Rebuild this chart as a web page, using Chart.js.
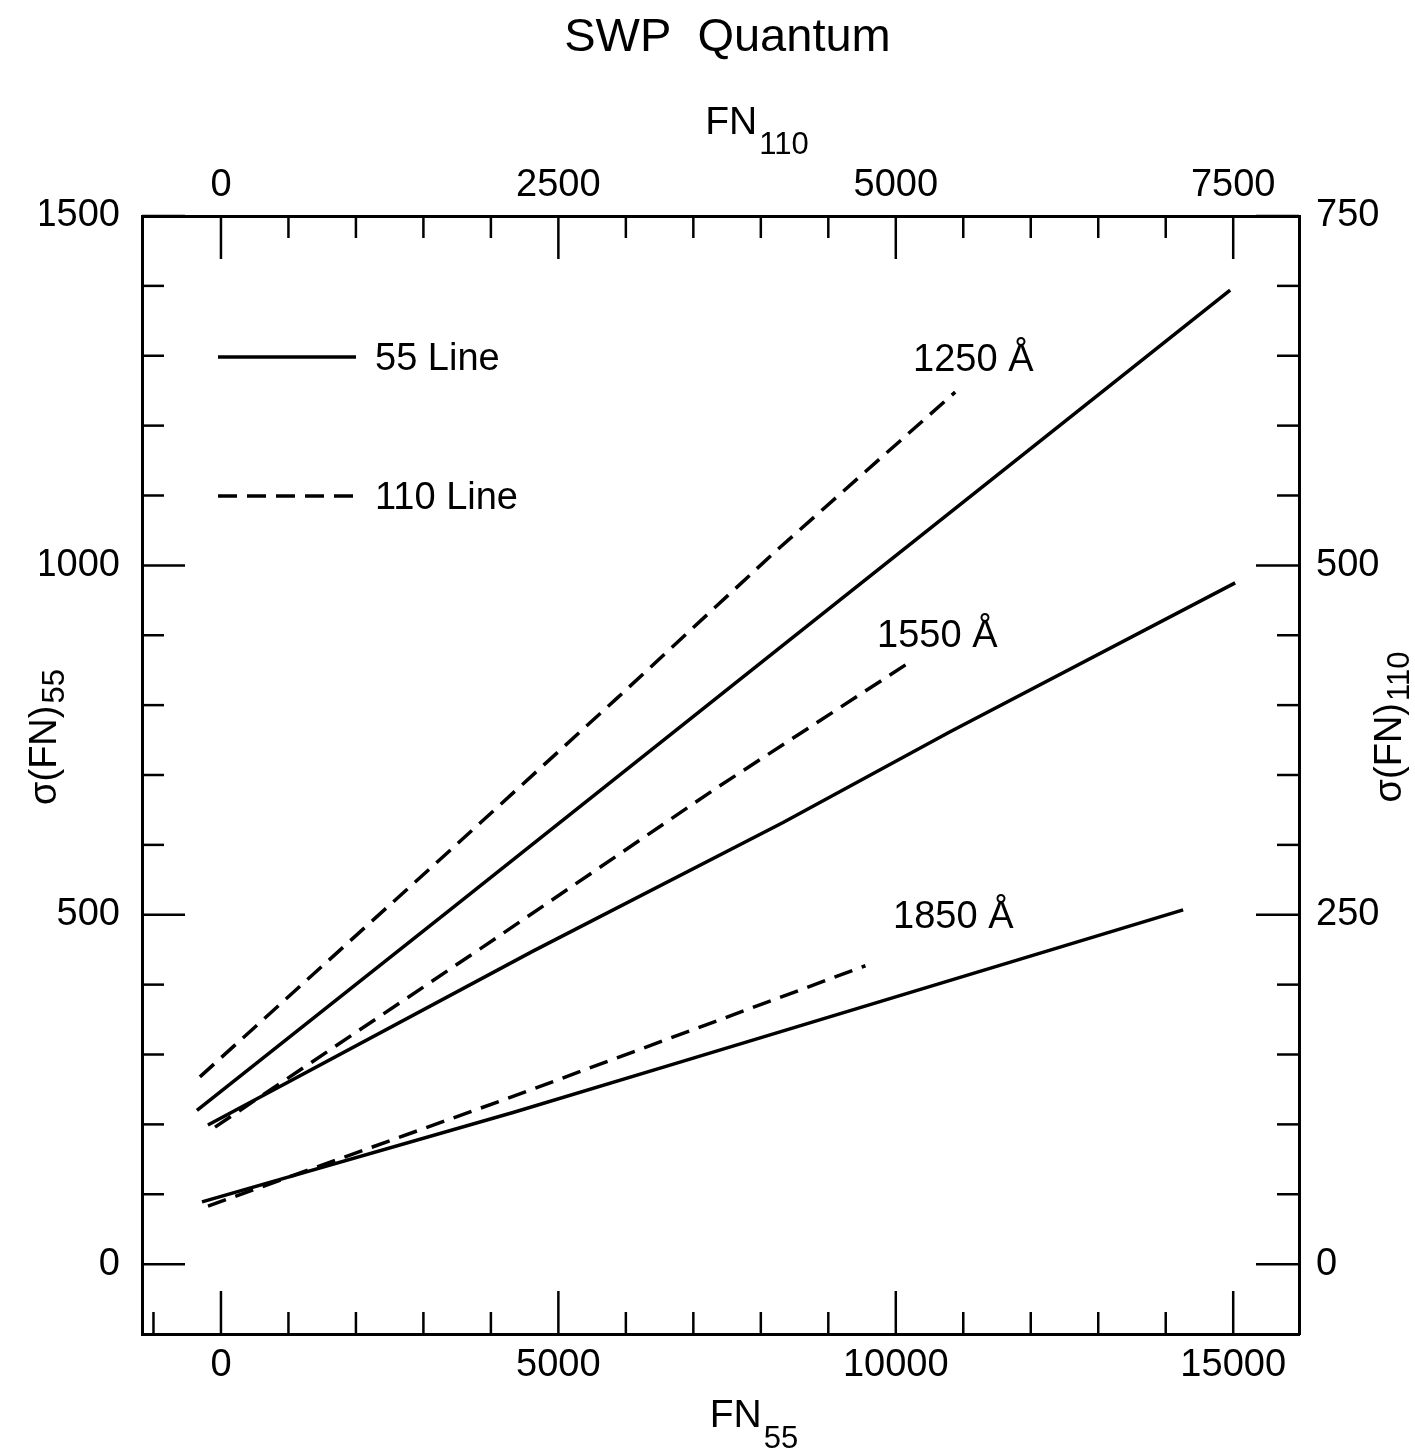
<!DOCTYPE html>
<html>
<head>
<meta charset="utf-8">
<title>SWP Quantum</title>
<script src="https://cdn.jsdelivr.net/npm/chart.js@4.4.1/dist/chart.umd.min.js"></script>
<style>
  html, body { margin: 0; padding: 0; background: #fff; }
  canvas { display: block; }
</style>
</head>
<body>
<canvas id="swpChart" width="1415" height="1452"></canvas>
<script>
// 55 line (solid): FN55 vs sigma(FN)55
var fn55_1250 = [-356, 3394, 5869, 8330, 12035, 14955];
var sig55_1250 = [220, 507, 697, 886, 1170, 1394];
var fn55_1550 = [-193, 4624, 8330, 10805, 15029];
var sig55_1550 = [199, 448, 632, 762, 975];
var fn55_1850 = [-281, 4328, 6803, 14258];
var sig55_1850 = [89, 217, 289, 507];

// 110 line (dashed): FN110 vs sigma(FN)110 (top / right axes)
var fn110_1250 = [-156, 1697, 2935, 4120, 5440];
var sig110_1250 = [134, 296, 405, 511, 624];
var fn110_1550 = [-44, 1942, 3676, 5091];
var sig110_1550 = [98, 227, 341, 430];
var fn110_1850 = [-96, 2164, 4775];
var sig110_1850 = [41.5, 120, 213.5];

var waveLabels = ['1250 Å', '1550 Å', '1850 Å'];

// ticks
var fn55Ticks = [-1000, 0, 1000, 2000, 3000, 4000, 5000, 6000, 7000, 8000, 9000, 10000, 11000, 12000, 13000, 14000, 15000];
var fn55TickLabels = [0, 5000, 10000, 15000];
var fn110Ticks = [0, 500, 1000, 1500, 2000, 2500, 3000, 3500, 4000, 4500, 5000, 5500, 6000, 6500, 7000, 7500];
var fn110TickLabels = [0, 2500, 5000, 7500];
var sig55Ticks = [0, 100, 200, 300, 400, 500, 600, 700, 800, 900, 1000, 1100, 1200, 1300, 1400, 1500];
var sig55TickLabels = [0, 500, 1000, 1500];
var sig110Ticks = [0, 50, 100, 150, 200, 250, 300, 350, 400, 450, 500, 550, 600, 650, 700, 750];
var sig110TickLabels = [0, 250, 500, 750];

var FONT = "'Liberation Sans', Arial, Helvetica, sans-serif";

function pts(xs, ys) {
    return xs.map(function(x, i) { return {x: x, y: ys[i]}; });
}

function solid(data) {
    return {data: data, showLine: true, borderColor: '#000', borderWidth: 3.5,
        pointRadius: 0, fill: false, tension: 0, xAxisID: 'x', yAxisID: 'y'};
}
function dashed(data) {
    return {data: data, showLine: true, borderColor: '#000', borderWidth: 3.5,
        borderDash: [19, 10], pointRadius: 0, fill: false, tension: 0,
        xAxisID: 'x2', yAxisID: 'y2'};
}

function fixedTicks(values) {
    return function(scale) {
        scale.ticks = values.map(function(v) { return {value: v}; });
    };
}
function labelOnly(values) {
    return function(v) { return values.indexOf(v) >= 0 ? String(v) : ''; };
}

var tickFont = {family: FONT, size: 38};

// inward tick marks, long for labelled ticks
var tickMarks = {
    id: 'tickMarks',
    afterDatasetsDraw: function(chart) {
        var ctx = chart.ctx, area = chart.chartArea;
        ctx.save();
        ctx.strokeStyle = '#000';
        ctx.lineWidth = 2.5;
        ['x', 'x2', 'y', 'y2'].forEach(function(id) {
            var s = chart.scales[id];
            s.ticks.forEach(function(t) {
                var p = s.getPixelForValue(t.value);
                var len = t.label ? 43 : 22;
                ctx.beginPath();
                if (s.position === 'bottom') { ctx.moveTo(p, area.bottom); ctx.lineTo(p, area.bottom - len); }
                if (s.position === 'top') { ctx.moveTo(p, area.top); ctx.lineTo(p, area.top + len); }
                if (s.position === 'left') { ctx.moveTo(area.left, p); ctx.lineTo(area.left + len, p); }
                if (s.position === 'right') { ctx.moveTo(area.right, p); ctx.lineTo(area.right - len, p); }
                ctx.stroke();
            });
        });
        ctx.restore();
    }
};

// text with a lowered subscript, centred on cx
function subText(ctx, main, sub, cx, base, mainSize, subSize, drop) {
    ctx.font = mainSize + 'px ' + FONT;
    var w1 = ctx.measureText(main).width;
    ctx.font = subSize + 'px ' + FONT;
    var w2 = ctx.measureText(sub).width;
    var x0 = cx - (w1 + 2 + w2) / 2;
    ctx.textAlign = 'left';
    ctx.textBaseline = 'alphabetic';
    ctx.font = mainSize + 'px ' + FONT;
    ctx.fillText(main, x0, base);
    ctx.font = subSize + 'px ' + FONT;
    ctx.fillText(sub, x0 + w1 + 2, base + drop);
}

var annotations = {
    id: 'annotations',
    afterDraw: function(chart) {
        var ctx = chart.ctx, area = chart.chartArea;
        var xs = chart.scales.x, ys = chart.scales.y;
        ctx.save();
        ctx.fillStyle = '#000';
        ctx.strokeStyle = '#000';

        // axis titles
        subText(ctx, 'FN', '110', 757, 134, 39, 31, 20);
        subText(ctx, 'FN', '55', 754, 1427, 39, 31, 21);
        ctx.save();
        ctx.translate(56, 737);
        ctx.rotate(-Math.PI / 2);
        subText(ctx, 'σ(FN)', '55', 0, 0, 38, 31, 8);
        ctx.restore();
        ctx.save();
        ctx.translate(1401, 727);
        ctx.rotate(-Math.PI / 2);
        subText(ctx, 'σ(FN)', '110', 0, 0, 38, 31, 8);
        ctx.restore();

        // wavelength labels, anchored in data units (left, baseline)
        var anchors = [[10256, 1278], [9723, 883], [9960, 481]];
        ctx.font = '38px ' + FONT;
        ctx.textAlign = 'left';
        ctx.textBaseline = 'alphabetic';
        waveLabels.forEach(function(txt, i) {
            ctx.fillText(txt, xs.getPixelForValue(anchors[i][0]), ys.getPixelForValue(anchors[i][1]));
        });

        // legend
        ctx.lineWidth = 3.5;
        ctx.beginPath();
        ctx.moveTo(area.left + 76, area.top + 141);
        ctx.lineTo(area.left + 214, area.top + 141);
        ctx.stroke();
        ctx.fillText('55 Line', area.left + 233, area.top + 154);
        ctx.setLineDash([19, 10]);
        ctx.beginPath();
        ctx.moveTo(area.left + 76, area.top + 280);
        ctx.lineTo(area.left + 214, area.top + 280);
        ctx.stroke();
        ctx.setLineDash([]);
        ctx.fillText('110 Line', area.left + 233, area.top + 293);
        ctx.restore();
    }
};

var axisBorder = {display: true, width: 3, color: '#000'};
var noGrid = {display: false, drawTicks: false};

var config = {
    type: 'scatter',
    data: {
        datasets: [
            solid(pts(fn55_1250, sig55_1250)),
            solid(pts(fn55_1550, sig55_1550)),
            solid(pts(fn55_1850, sig55_1850)),
            dashed(pts(fn110_1250, sig110_1250)),
            dashed(pts(fn110_1550, sig110_1550)),
            dashed(pts(fn110_1850, sig110_1850))
        ]
    },
    options: {
        responsive: false,
        animation: false,
        events: [],
        layout: {padding: {left: 40, right: 0, top: 0, bottom: 0}},
        plugins: {
            legend: {display: false},
            tooltip: {enabled: false},
            title: {
                display: true,
                text: 'SWP  Quantum',
                color: '#000',
                font: {family: FONT, size: 47, weight: 'normal'},
                padding: {top: 10, bottom: 0}
            }
        },
        scales: {
            x: {
                type: 'linear', position: 'bottom', min: -1170, max: 15975,
                afterBuildTicks: fixedTicks(fn55Ticks),
                afterFit: function(s) { s.height = 118; },
                ticks: {callback: labelOnly(fn55TickLabels), font: tickFont, color: '#000',
                    padding: 9, autoSkip: false, maxRotation: 0},
                grid: noGrid, border: axisBorder
            },
            x2: {
                type: 'linear', position: 'top', min: -585, max: 7987.5,
                afterBuildTicks: fixedTicks(fn110Ticks),
                afterFit: function(s) { s.height = 216 - 66.4; },
                ticks: {callback: labelOnly(fn110TickLabels), font: tickFont, color: '#000',
                    padding: 8, autoSkip: false, maxRotation: 0},
                grid: noGrid, border: axisBorder
            },
            y: {
                type: 'linear', position: 'left', min: -100, max: 1500,
                afterBuildTicks: fixedTicks(sig55Ticks),
                afterFit: function(s) { s.width = 102; },
                ticks: {callback: labelOnly(sig55TickLabels), font: tickFont, color: '#000',
                    padding: 22, autoSkip: false},
                grid: noGrid, border: axisBorder
            },
            y2: {
                type: 'linear', position: 'right', min: -50, max: 750,
                afterBuildTicks: fixedTicks(sig110Ticks),
                afterFit: function(s) { s.width = 116; },
                ticks: {callback: labelOnly(sig110TickLabels), font: tickFont, color: '#000',
                    padding: 17, autoSkip: false},
                grid: noGrid, border: axisBorder
            }
        }
    },
    plugins: [tickMarks, annotations]
};

var ctx = document.getElementById('swpChart');
var swpChart = new Chart(ctx, config);
</script>
</body>
</html>
